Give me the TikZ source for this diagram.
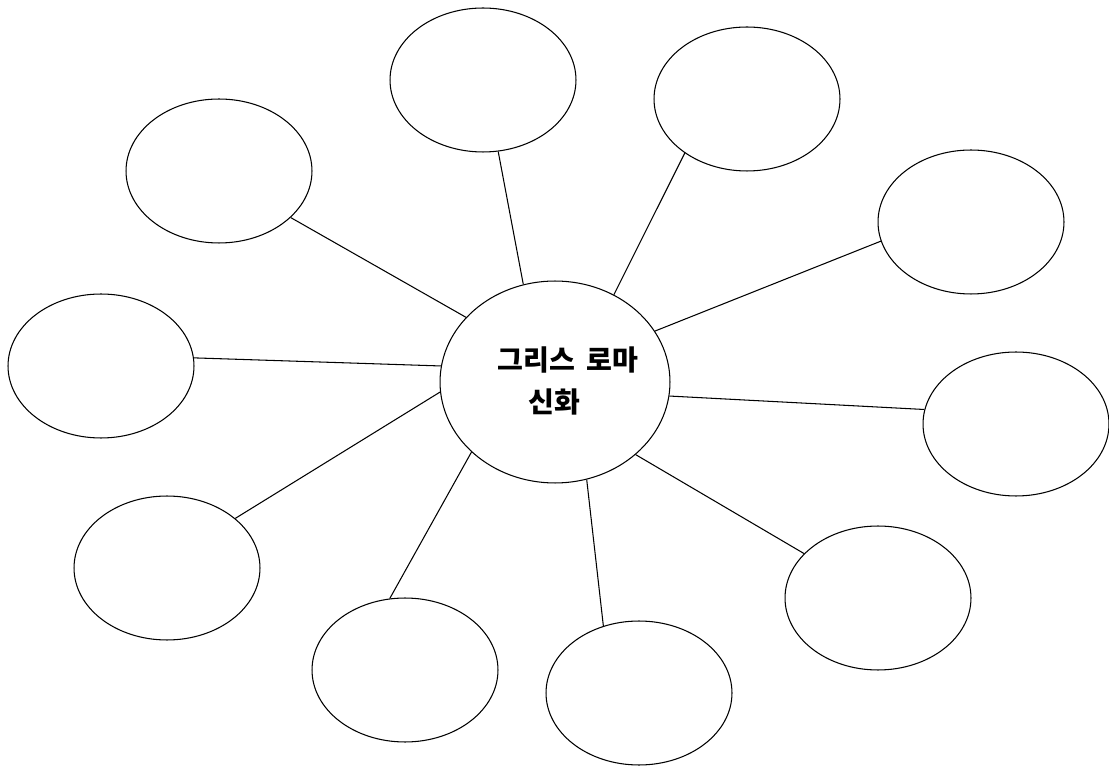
\documentclass[tikz,border=0pt]{standalone}
\usepackage{fontspec}
\newfontfamily\kofont{Noto Sans CJK KR}
\usetikzlibrary{shapes.geometric}
\tikzstyle{topic} = [draw=black,ellipse,line width=0.6pt,inner sep=0pt,minimum width=3.72cm,minimum height=2.88cm]
\tikzstyle{hub} = [draw=black,ellipse,line width=0.6pt,inner sep=0pt,minimum width=4.6cm,minimum height=4.04cm]
\tikzstyle{title} = [align=left,inner sep=0pt,font=\kofont\bfseries\fontsize{16}{24.4}\selectfont]
\tikzstyle{spoke} = [line width=0.6pt]
\begin{document}
\begin{tikzpicture}[x=0.02cm,y=-0.02cm]
				\useasboundingbox (0,0) rectangle (1109,766);
				\node (myth) [hub] at (555,382) {};
				\node (label) [title] at (568,381) {그리스\hspace{0.4em}로마\\\hspace*{1.1em}신화};
				\node (top) [topic] at (483,80) {};
				\node (topright) [topic] at (747,99) {};
				\node (upleft) [topic] at (219,171) {};
				\node (upright) [topic] at (971,222) {};
				\node (left) [topic] at (101,366) {};
				\node (right) [topic] at (1016,424) {};
				\node (lowleft) [topic] at (167,568) {};
				\node (lowright) [topic] at (878,598) {};
				\node (botleft) [topic] at (405,670) {};
				\node (bottom) [topic] at (639,693) {};
				\draw [spoke] (top.-78) -- (myth.108);
				\draw [spoke] (topright.221) -- (myth.56);
				\draw [spoke] (upleft.-33) -- (myth.144);
				\draw [spoke] (upright.192) -- (myth.27);
				\draw [spoke] (left.5) -- (myth.172);
				\draw [spoke] (right.171) -- (myth.-7);
				\draw [spoke] (lowleft.36) -- (myth.185);
				\draw [spoke] (lowright.149) -- (myth.-42);
				\draw [spoke] (botleft.102) -- (myth.220);
				\draw [spoke] (bottom.118) -- (myth.-72);
			\end{tikzpicture}
\end{document}
